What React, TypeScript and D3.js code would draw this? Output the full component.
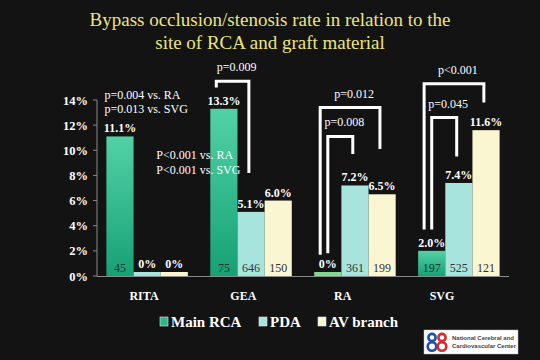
import React from "react";
import * as d3 from "d3";

const categories = ["RITA", "GEA", "RA", "SVG"];
const seriesNames = ["Main RCA", "PDA", "AV branch"];
const mainRca = [11.1, 13.3, 0, 2.0];
const pda = [0, 5.1, 7.2, 7.4];
const avBranch = [0, 6.0, 6.5, 11.6];
const nMain = [45, 75, null, 197];
const nPda = [null, 646, 361, 525];
const nAv = [null, 150, 199, 121];
const yTicks = [0, 2, 4, 6, 8, 10, 12, 14];

const brackets = [
  { cat: "GEA", from: 0, to: 1, top: 15.5, leftEnd: 15.0, rightEnd: 8.2, label: "p=0.009", inner: false },
  { cat: "RA", from: 0, to: 2, top: 13.4, leftEnd: 1.7, rightEnd: 10.1, label: "p=0.012", inner: false },
  { cat: "RA", from: 0, to: 1, top: 11.1, leftEnd: 1.8, rightEnd: 9.7, label: "p=0.008", inner: true },
  { cat: "SVG", from: 0, to: 2, top: 15.3, leftEnd: 3.7, rightEnd: 13.8, label: "p<0.001", inner: false },
  { cat: "SVG", from: 0, to: 1, top: 12.6, leftEnd: 3.7, rightEnd: 9.5, label: "p=0.045", inner: true },
];

const notes = [
  { cat: "RITA", level: 14.1, lines: ["p=0.004 vs. RA", "p=0.013 vs. SVG"] },
  { cat: "GEA", level: 9.3, lines: ["P<0.001 vs. RA", "P<0.001 vs. SVG"] },
];

const values = [mainRca, pda, avBranch];
const counts = [nMain, nPda, nAv];
const fills = ["url(#gMain)", "#a7e4dd", "#fbf6d2"];
const legendFills = ["#2cb98a", "#a7e4dd", "#fbf6d2"];
const nColors = ["#17382b", "#2d3a3a", "#33322a"];

const W = 540;
const H = 360;
const serif = "'Liberation Serif', 'Times New Roman', serif";

export default function App() {
  const x = d3.scaleBand<string>().domain(categories).range([96, 510]).paddingInner(0.216).paddingOuter(0.1);
  const xs = d3.scaleBand<number>().domain([0, 1, 2]).range([0, x.bandwidth()]);
  const y = d3.scaleLinear().domain([0, 14]).range([276, 100]);
  const labelX = d3.scalePoint<string>().domain(categories).range([144, 442]);
  const bw = xs.bandwidth();
  const barX = (cat: string, s: number) => (x(cat) as number) + (xs(s) as number);

  return (
    <svg width={W} height={H} style={{ display: "block" }}>
      <style>{`body{margin:0;background:#131313}`}</style>
      <defs>
        <linearGradient id="gMain" x1="0" y1="0" x2="0" y2="1">
          <stop offset="0" stopColor="#52d1a6" />
          <stop offset="1" stopColor="#16a175" />
        </linearGradient>
      </defs>
      <rect width={W} height={H} fill="#131313" />

      <text x={270} y={26} textAnchor="middle" fontFamily={serif} fontSize={19} fill="#ece47f">
        Bypass occlusion/stenosis rate in relation to the
      </text>
      <text x={270} y={49} textAnchor="middle" fontFamily={serif} fontSize={19} fill="#ece47f">
        site of RCA and graft material
      </text>

      {/* y axis */}
      <line x1={97} x2={97} y1={y(14)} y2={y(0)} stroke="#8a8a8a" />
      {yTicks.map((t) => (
        <g key={t}>
          <line x1={93} x2={97} y1={y(t)} y2={y(t)} stroke="#8a8a8a" />
          <text x={88} y={y(t) + 4.5} textAnchor="end" fontFamily={serif} fontWeight="bold" fontSize={12.5} fill="#fff">
            {t}%
          </text>
        </g>
      ))}

      {/* bars */}
      {categories.map((cat, ci) =>
        values.map((vals, s) => {
          const v = vals[ci];
          const top = Math.min(y(v), y(0) - 4);
          const n = counts[s][ci];
          const bx = barX(cat, s);
          return (
            <g key={cat + s}>
              <rect x={bx} y={top} width={bw} height={y(0) - top} fill={v === 0 && s === 0 ? "#86d78f" : fills[s]} />
              <text x={bx + bw / 2} y={top - 4} textAnchor="middle" fontFamily={serif} fontWeight="bold" fontSize={12} fill="#fff">
                {v === 0 ? "0%" : v.toFixed(1) + "%"}
              </text>
              {n != null && (
                <text x={bx + bw / 2} y={y(0) - 4} textAnchor="middle" fontFamily={serif} fontSize={12} fill={nColors[s]}>
                  {n}
                </text>
              )}
            </g>
          );
        })
      )}

      {/* x axis */}
      <line x1={97} x2={509} y1={y(0) + 0.5} y2={y(0) + 0.5} stroke="#8a8a8a" />
      {categories.map((cat) => (
        <text key={cat} x={labelX(cat)} y={300} textAnchor="middle" fontFamily={serif} fontWeight="bold" fontSize={12} fill="#fff">
          {cat}
        </text>
      ))}

      {/* brackets */}
      {brackets.map((b, i) => {
        const lx = barX(b.cat, b.from) + (b.inner ? 0.5 : 0.22) * bw;
        const rx = barX(b.cat, b.to) + 0.42 * bw;
        return (
          <g key={i}>
            <path
              d={`M${lx},${y(b.leftEnd)}V${y(b.top)}H${rx}V${y(b.rightEnd)}`}
              fill="none"
              stroke="#fff"
              strokeWidth={3}
            />
            <text x={(lx + rx) / 2 + 4} y={y(b.top) - 10} textAnchor="middle" fontFamily={serif} fontSize={12} fill="#fff">
              {b.label}
            </text>
          </g>
        );
      })}

      {/* notes */}
      {notes.map((nt, i) => (
        <text key={i} x={(x(nt.cat) as number) - (i === 0 ? 2 : 54)} y={y(nt.level)} fontFamily={serif} fontSize={12} fill="#fff">
          {nt.lines.map((l, j) => (
            <tspan key={j} x={(x(nt.cat) as number) - (i === 0 ? 2 : 54)} dy={j === 0 ? 0 : 14.5}>
              {l}
            </tspan>
          ))}
        </text>
      ))}

      {/* legend */}
      {seriesNames.map((name, i) => {
        const lx = [160, 259, 318][i];
        return (
          <g key={name}>
            <rect x={lx} y={317} width={8} height={9} fill={legendFills[i]} stroke="#e8e8e8" strokeWidth={0.6} />
            <text x={lx + 11} y={327} fontFamily={serif} fontWeight="bold" fontSize={15} fill="#fff">
              {name}
            </text>
          </g>
        );
      })}

      {/* logo */}
      <rect x={424} y={330} width={94} height={24} fill="#fff" stroke="#bbb" strokeWidth={0.5} />
      <g fill="none" strokeWidth={2.6}>
        <circle cx={432} cy={337.5} r={3.6} stroke="#1b4fb8" />
        <circle cx={432} cy={346.5} r={4.3} stroke="#1b4fb8" />
        <circle cx={442} cy={337.5} r={3.6} stroke="#e0262b" />
        <circle cx={442} cy={346.5} r={4.3} stroke="#e0262b" />
      </g>
      <text x={452} y={340} fontFamily="'Liberation Sans', Arial, sans-serif" fontWeight="bold" fontSize={6} fill="#444">
        National Cerebral and
      </text>
      <text x={452} y={348} fontFamily="'Liberation Sans', Arial, sans-serif" fontWeight="bold" fontSize={6} fill="#444">
        Cardiovascular Center
      </text>
    </svg>
  );
}
